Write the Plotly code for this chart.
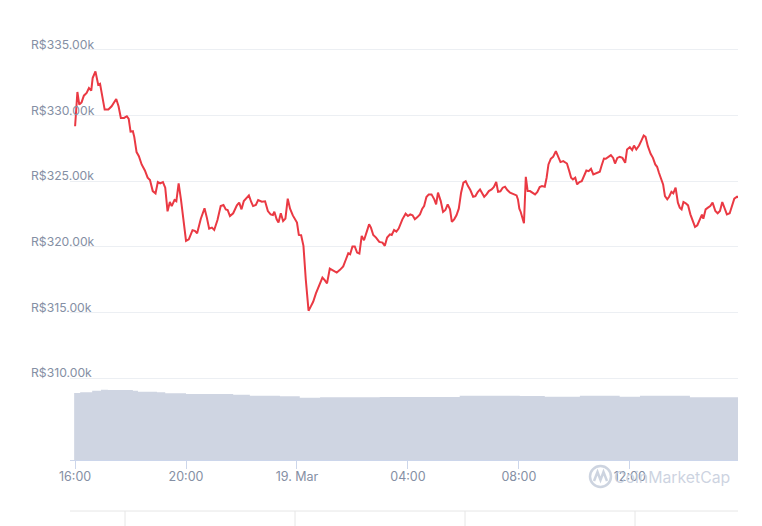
import pandas as pd
import plotly.graph_objects as go

# ---- data ----
base_time = "2024-03-18 16:00"

price_minutes = [0, 5, 9, 14, 19, 25, 30, 35, 38, 44, 50, 54, 64, 72, 79, 89, 94, 99, 106, 112,
                 116, 120, 125, 128, 133, 138, 144, 151, 157, 162, 168, 174, 179, 184, 190, 195,
                 200, 205, 209, 215, 219, 224, 229, 240, 246, 254, 259, 264, 272, 280, 285, 290,
                 296, 301, 308, 315, 321, 326, 330, 335, 342, 350, 355, 360, 365, 376, 381, 385,
                 391, 396, 404, 411, 417, 423, 428, 431, 436, 440, 445, 450, 455, 460, 465, 471,
                 480, 484, 489, 494, 499, 505, 510, 515, 521, 528, 535, 540, 545, 551, 558, 566,
                 573, 580, 586, 591, 595, 600, 605, 610, 615, 620, 625, 631, 636, 640, 645, 651,
                 658, 665, 670, 675, 681, 685, 690, 695, 700, 708, 715, 720, 725, 730, 735, 740,
                 746, 751, 755, 760, 765, 771, 777, 781, 785, 791, 796, 801, 806, 811, 815, 820,
                 825, 830, 835, 840, 845, 850, 855, 861, 866, 871, 876, 880, 885, 890, 895, 901,
                 906, 911, 915, 920, 925, 930, 935, 941, 946, 951, 955, 958, 961, 964, 967, 971,
                 975, 979, 984, 989, 995, 1000, 1005, 1010, 1016, 1020, 1024, 1029, 1034, 1040,
                 1045, 1050, 1056, 1060, 1064, 1069, 1073, 1077, 1082, 1086, 1091, 1096, 1101,
                 1106, 1111, 1116, 1121, 1126, 1131, 1135, 1139, 1144, 1148, 1153, 1159, 1164,
                 1168, 1173, 1178, 1184, 1190, 1194, 1200, 1205, 1209, 1214, 1220, 1225, 1230,
                 1234, 1239, 1245, 1250, 1255, 1259, 1263, 1268, 1272, 1276, 1281, 1285, 1290,
                 1294, 1299, 1304, 1308, 1312, 1316, 1321, 1326, 1331, 1336, 1341, 1346, 1351,
                 1356, 1359, 1364, 1369, 1374, 1379, 1385, 1390, 1395, 1400, 1405, 1410, 1416,
                 1421, 1426, 1432, 1436]

price_values_k = [329.19, 331.80, 330.84, 331.01, 331.52, 331.72, 332.10, 331.90, 332.86, 333.37,
                  332.35, 332.43, 330.46, 330.46, 330.71, 331.27, 330.71, 329.82, 329.82, 329.95,
                  329.75, 328.78, 328.81, 328.38, 327.22, 326.91, 326.28, 325.82, 325.27, 325.09,
                  324.25, 324.08, 324.94, 324.84, 324.94, 324.51, 322.71, 323.42, 323.11, 323.57,
                  323.47, 324.84, 323.62, 320.46, 320.58, 321.27, 321.22, 321.04, 322.15, 322.94,
                  322.23, 321.39, 321.47, 321.29, 322.05, 323.11, 323.19, 322.86, 322.81, 322.35,
                  322.56, 323.16, 323.37, 322.86, 323.49, 323.92, 323.42, 323.11, 323.19, 323.57,
                  323.44, 323.47, 322.73, 322.48, 322.43, 322.68, 322.10, 321.85, 322.56, 321.97,
                  322.15, 323.67, 322.91, 322.40, 321.85, 320.91, 320.89, 320.08, 317.54, 315.14,
                  315.47, 315.82, 316.46, 317.04, 317.67, 317.47, 317.22, 318.35, 318.18, 318.05,
                  318.25, 318.51, 319.06, 319.52, 319.44, 320.03, 320.03, 319.57, 319.49, 320.84,
                  320.51, 321.14, 321.72, 321.47, 320.91, 320.71, 320.38, 320.33, 320.08, 320.71,
                  320.96, 320.91, 321.29, 321.16, 321.40, 322.10, 322.53, 322.35, 322.48, 322.41,
                  322.10, 322.25, 322.48, 322.91, 323.11, 323.80, 324.00, 324.00, 323.62, 323.24,
                  324.13, 323.49, 322.66, 322.81, 323.24, 322.86, 321.90, 322.10, 322.41, 322.91,
                  324.13, 324.89, 325.01, 324.63, 324.33, 323.82, 323.87, 324.18, 324.38, 324.13,
                  323.82, 324.00, 324.25, 324.38, 324.56, 324.94, 324.20, 324.23, 324.51, 324.58,
                  324.33, 324.13, 324.05, 324.03, 323.92, 323.62, 322.91, 322.66, 322.35, 321.80,
                  325.34, 324.25, 324.25, 324.13, 324.00, 324.18, 324.56, 324.63, 324.58, 325.27,
                  326.28, 326.71, 326.86, 327.29, 326.86, 326.46, 326.53, 326.41, 326.35, 325.77,
                  325.27, 325.14, 325.27, 324.76, 324.94, 325.01, 325.39, 325.82, 325.77, 325.95,
                  325.52, 325.60, 325.65, 325.72, 326.20, 326.73, 326.71, 326.84, 326.99, 326.78,
                  326.35, 326.78, 326.86, 326.78, 326.41, 327.42, 327.59, 327.37, 327.72, 327.42,
                  327.72, 328.10, 328.48, 328.38, 327.67, 327.09, 326.78, 326.28, 326.10, 325.65,
                  325.19, 324.76, 323.87, 323.62, 323.82, 324.20, 324.08, 324.51, 323.37, 322.99,
                  322.86, 323.42, 323.32, 323.16, 322.48, 322.05, 321.52, 321.65, 322.10, 322.46,
                  322.15, 322.86, 322.99, 323.11, 323.37, 322.73, 322.56, 322.73, 323.42, 322.86,
                  322.48, 322.56, 323.11, 323.67, 323.82, 323.75]

volume_minutes = [-2, 11, 37, 56, 71, 125, 136, 177, 195, 240, 342, 378, 443, 486, 530, 616, 659,
                  832, 962, 1016, 1092, 1178, 1222, 1330, 1434]
volume_values = [201, 203, 208, 211, 210, 208, 205, 203, 200, 198, 196, 193, 191, 187, 188, 188,
                 189, 193, 192, 190, 193, 190, 193, 188, 186]

y_tick_values = [310, 315, 320, 325, 330, 335]
y_tick_labels = ["R$310.00k", "R$315.00k", "R$320.00k", "R$325.00k", "R$330.00k", "R$335.00k"]

x_tick_times = ["2024-03-18 16:00", "2024-03-18 20:00", "2024-03-19 00:00",
                "2024-03-19 04:00", "2024-03-19 08:00", "2024-03-19 12:00"]
x_tick_labels = ["16:00", "20:00", "19. Mar", "04:00", "08:00", "12:00"]

# ---- build ----
t0 = pd.Timestamp(base_time)
price_times = t0 + pd.to_timedelta(price_minutes, unit="min")
volume_times = t0 + pd.to_timedelta(volume_minutes, unit="min")

LABEL = "#858fa4"
GRID = "#eceff3"
AXIS = "#ccd6eb"
FONT = "Inter"

fig = go.Figure()
fig.add_trace(go.Scatter(
    x=volume_times, y=volume_values, yaxis="y2", mode="lines",
    line=dict(width=0, shape="hv", color="rgb(207,213,226)"),
    fill="tozeroy", fillcolor="rgb(207,213,226)", hoverinfo="skip", showlegend=False))
fig.add_trace(go.Scatter(
    x=price_times, y=price_values_k, mode="lines",
    line=dict(color="#ea3943", width=2), showlegend=False))

x_start = t0 - pd.Timedelta(minutes=11)
x_end = t0 + pd.Timedelta(minutes=1434)

fig.update_layout(
    width=762, height=526,
    margin=dict(l=70, r=24, t=30, b=66),
    paper_bgcolor="white", plot_bgcolor="white",
    font=dict(family=FONT, color=LABEL, size=12),
    xaxis=dict(
        range=[x_start, x_end], type="date",
        tickvals=pd.to_datetime(x_tick_times), ticktext=x_tick_labels,
        ticks="outside", ticklen=8, tickcolor=AXIS, tickwidth=1,
        ticklabelstandoff=-3,
        showgrid=False, zeroline=False, showline=True, linecolor=AXIS, linewidth=1,
        tickfont=dict(size=12.5, color=LABEL, family=FONT),
    ),
    yaxis=dict(
        range=[303.77, 336.52], tickvals=y_tick_values, showticklabels=False,
        showgrid=True, gridcolor=GRID, gridwidth=1, zeroline=False,
    ),
    yaxis2=dict(
        range=[0, 1290], overlaying="y", showgrid=False, showticklabels=False,
        zeroline=False,
    ),
    hovermode=False,
)

for v, lab in zip(y_tick_values, y_tick_labels):
    fig.add_annotation(x=-0.0614, xref="paper", y=v, yref="y", text=lab, showarrow=False,
                       xanchor="left", yanchor="bottom", yshift=-4,
                       font=dict(size=12.2, color=LABEL, family=FONT))

# navigator strip (partially visible below the chart)
def px_x(p):
    return (p - 70) / 668.0

def px_y(p):
    return (460 - p) / 430.0

fig.add_shape(type="line", xref="paper", yref="paper", x0=px_x(70), x1=px_x(738),
              y0=px_y(511), y1=px_y(511), line=dict(color="#e6e6e6", width=1))
for xv in [125, 295, 465, 635]:
    fig.add_shape(type="line", xref="paper", yref="paper", x0=px_x(xv), x1=px_x(xv),
                  y0=px_y(511), y1=px_y(530), line=dict(color="#e6e6e6", width=1))

# watermark
WM = "rgba(196,204,219,0.85)"
fig.add_shape(type="circle", xref="paper", yref="paper",
              x0=px_x(590), x1=px_x(611), y0=px_y(487), y1=px_y(466),
              line=dict(color=WM, width=2.5))
fig.add_shape(type="path", xref="paper", yref="paper",
              path="M {} {} L {} {} L {} {} L {} {} L {} {}".format(
                  px_x(594), px_y(481), px_x(597.5), px_y(472), px_x(600.5), px_y(480),
                  px_x(603.5), px_y(472), px_x(607), px_y(481)),
              line=dict(color=WM, width=2.5))
fig.add_annotation(x=px_x(612), xref="paper", y=px_y(477), yref="paper", text="CoinMarketCap",
                   showarrow=False, xanchor="left", yanchor="middle",
                   font=dict(size=15.8, color=WM, family=FONT))

fig.write_html("out.html", config={"displayModeBar": False},
               post_script="document.body.style.margin='0';document.body.style.overflow='hidden';")
